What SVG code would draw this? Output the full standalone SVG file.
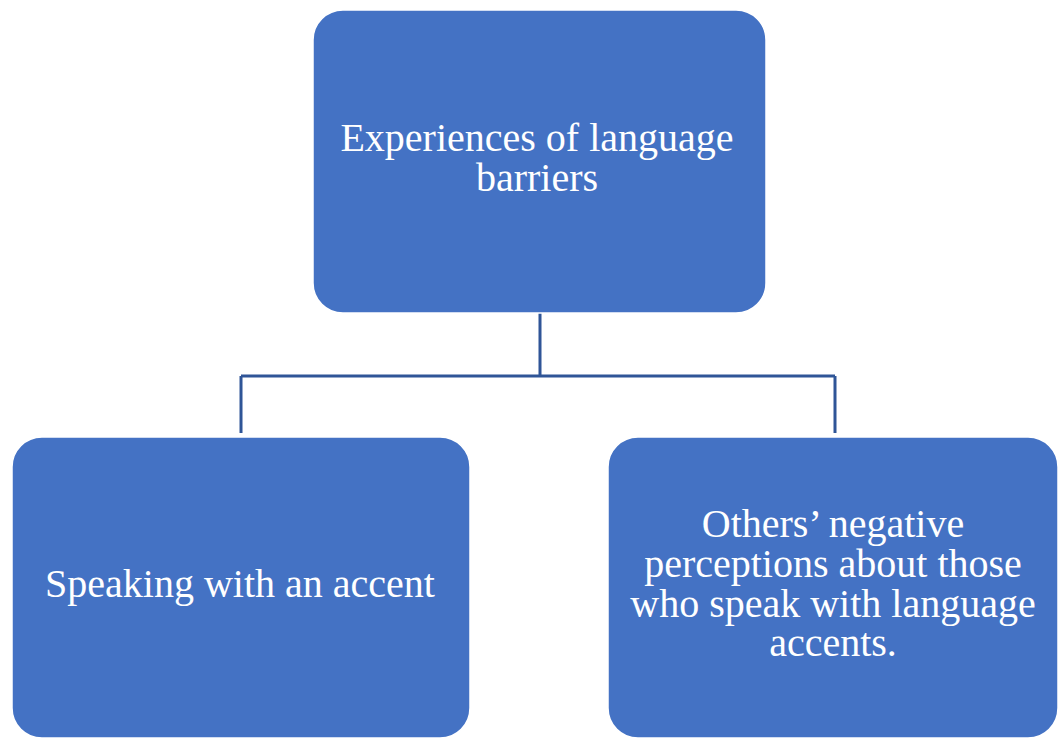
<svg xmlns="http://www.w3.org/2000/svg" width="1058" height="739" viewBox="0 0 1058 739">
  <style>
    .box { fill: #4472C4; stroke: #FFFFFF; stroke-width: 1.5; }
    .label { fill: #FFFFFF; font-family: "Liberation Serif", "Times New Roman", serif; font-size: 40px; text-anchor: middle; }
    .link { fill: none; stroke: #2F5597; stroke-width: 3; }
  </style>
  <rect width="1058" height="739" fill="#FFFFFF"/>
  <g id="connectors">
    <path class="link" d="M540 313 V376 M241 376 H835 M241 376 V433 M835 376 V433"/>
  </g>
  <g id="node-root">
    <rect class="box" x="313" y="10" width="453" height="303" rx="30" ry="30"/>
    <text class="label" x="537" y="151">Experiences of language<tspan x="537" dy="40">barriers</tspan></text>
  </g>
  <g id="node-accent">
    <rect class="box" x="12" y="437" width="458" height="301" rx="30" ry="30"/>
    <text class="label" x="240" y="597">Speaking with an accent</text>
  </g>
  <g id="node-perceptions">
    <rect class="box" x="608" y="437" width="450" height="301" rx="30" ry="30"/>
    <text class="label" x="833" y="537">Others’ negative<tspan x="833" dy="40">perceptions about those</tspan><tspan x="833" dy="40">who speak with language</tspan><tspan x="833" dy="39">accents.</tspan></text>
  </g>
</svg>
